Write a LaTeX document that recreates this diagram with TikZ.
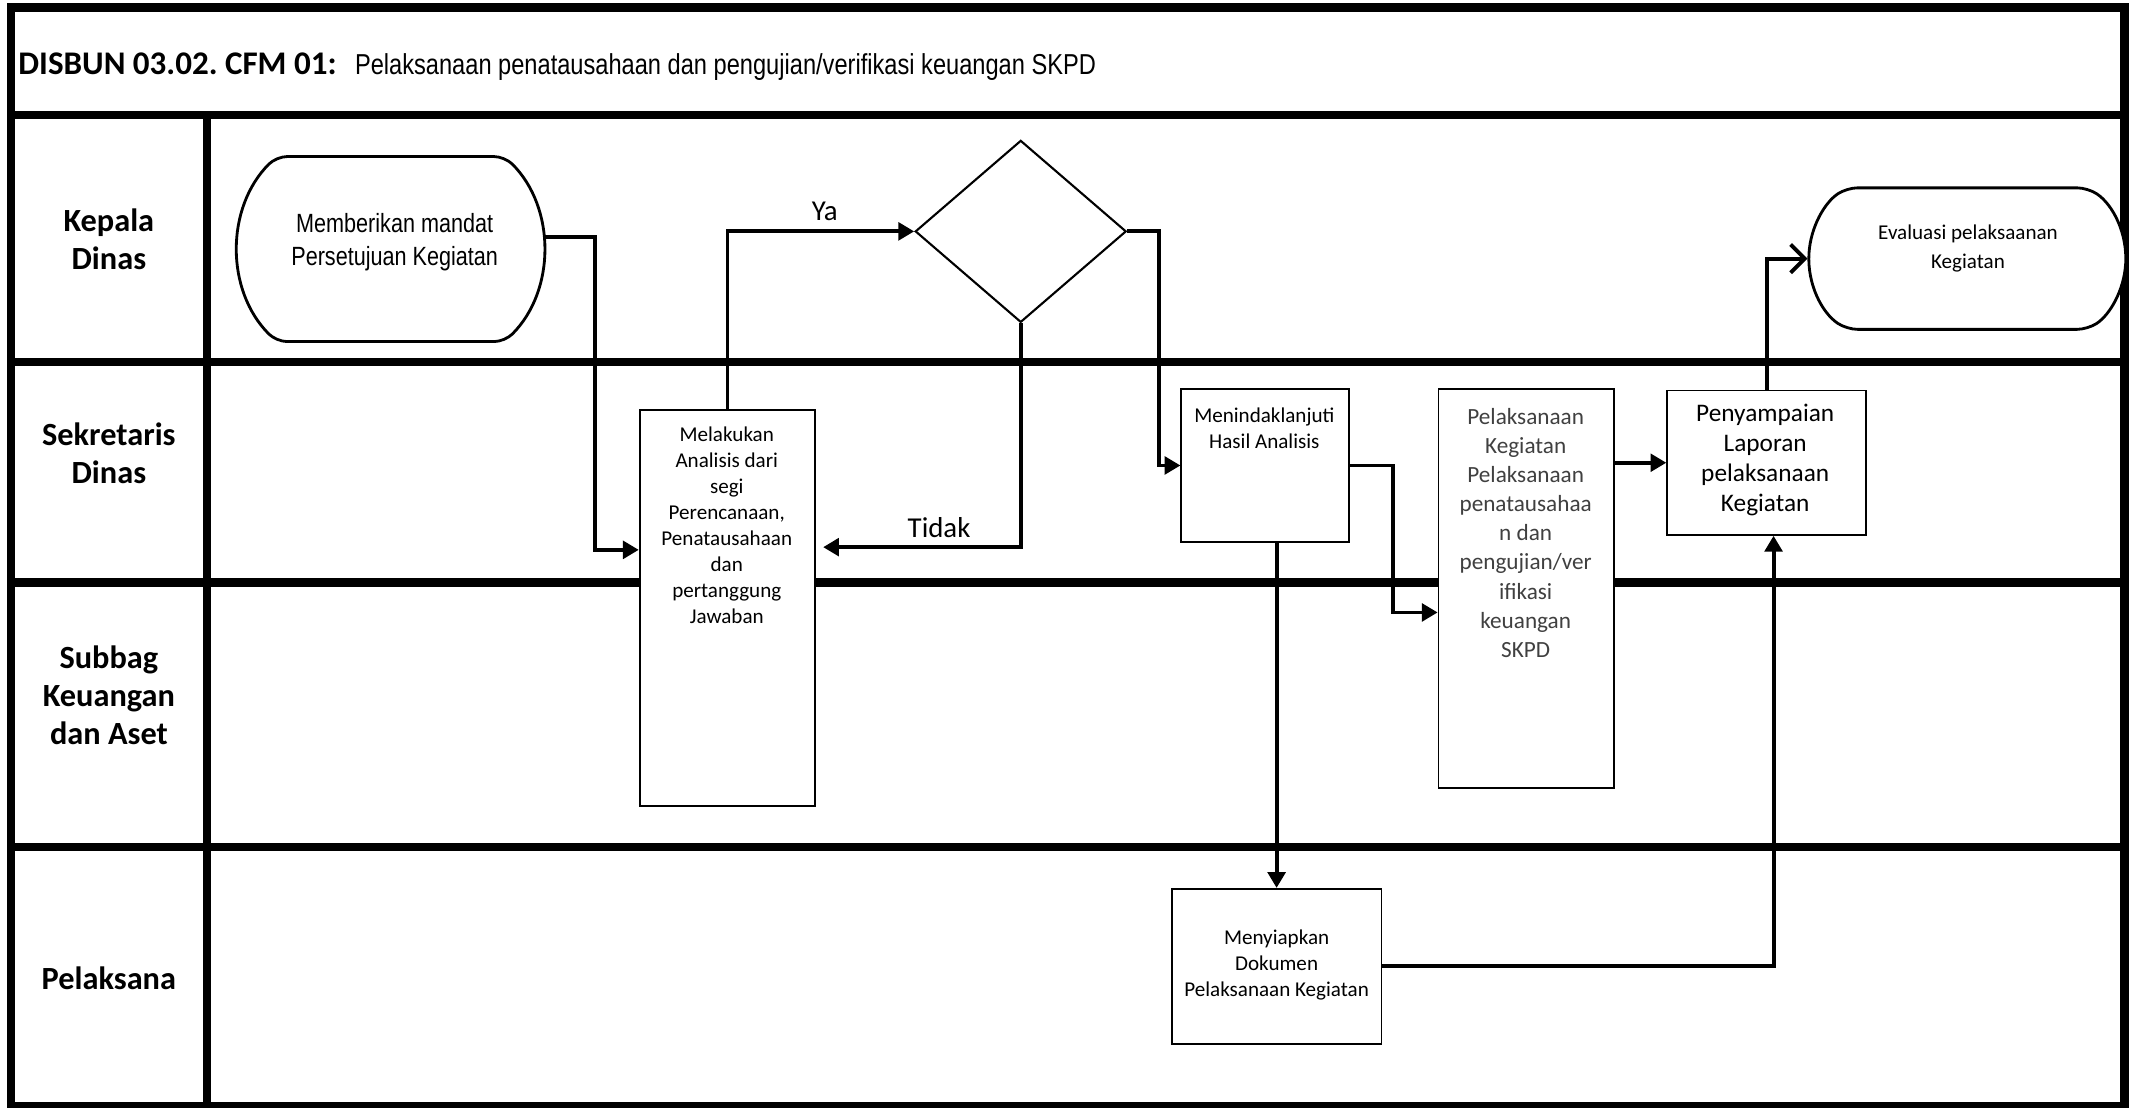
\documentclass[tikz,border=0pt]{standalone}
\usepackage{fontspec}
\setmainfont{Carlito}
\newfontfamily\narrowfont[FakeStretch=0.82]{Liberation Sans}
\usetikzlibrary{positioning}
\usetikzlibrary{shapes.geometric}
\usetikzlibrary{shapes.misc}
\usetikzlibrary{arrows.meta}
\frenchspacing

\tikzset{
  laneline/.style={line width=2.3pt},
  procbox/.style={draw, line width=0.5pt, fill=white, rectangle, inner sep=0pt},
  termbox/.style={draw, line width=0.8pt, fill=white, rounded rectangle, rounded corners=3pt, inner sep=0pt},
  decision/.style={draw, line width=0.6pt, fill=white, diamond, inner sep=0pt},
  flow/.style={line width=1.1pt, -{Triangle[length=4.5pt,width=5pt]}},
  openflow/.style={line width=1.1pt, -{Straight Barb[length=4pt,width=8pt]}},
  boxtext/.style={align=center, inner sep=0pt, font=\fontsize{6}{7.4}\selectfont},
  lanetext/.style={align=center, inner sep=0pt, font=\fontsize{9.2}{10.8}\selectfont\bfseries},
}

\begin{document}
\begin{tikzpicture}[x=0.01361cm, y=-0.01361cm]
\useasboundingbox (0,0) rectangle (1568,814);

% lanes
\draw[laneline] (8,5.5) rectangle (1561,812.5);
\draw[laneline] (8,84.5)--(1561,84.5);
\draw[laneline] (8,266)--(1561,266);
\draw[laneline] (8,428)--(1561,428);
\draw[laneline] (8,622)--(1561,622);
\draw[laneline] (152,84.5)--(152,812.5);

\node[anchor=west, inner sep=0pt, font=\fontsize{9.4}{11}\selectfont\bfseries] (judul) at (13,47) {DISBUN 03.02. CFM 01:};
\node[anchor=base west, inner sep=0pt, font=\narrowfont\fontsize{8.2}{10}\selectfont] (judulisi) at ([xshift=0.17cm]judul.base east) {Pelaksanaan penatausahaan dan pengujian/verifikasi keuangan SKPD};

\node[lanetext] (kepala) at (80,176) {Kepala\\Dinas};
\node[lanetext] (sekretaris) at (80,333) {Sekretaris\\Dinas};
\node[lanetext] (subbag) at (80,511) {Subbag\\Keuangan\\dan Aset};
\node[lanetext] (pelaksana) at (80,719) {Pelaksana};

% shapes
\node[termbox, rounded rectangle arc length=90, minimum width=3.05cm, minimum height=1.85cm] (mandat) at (287,183) {};
\node[align=center, inner sep=0pt, font=\narrowfont\fontsize{7.5}{9.3}\selectfont] (mandattext) at (290,178) {Memberikan mandat\\Persetujuan Kegiatan};

\node[decision, minimum width=2.11cm, minimum height=1.82cm] (keputusan) at (750,170) {};

\node[procbox, minimum width=1.756cm, minimum height=3.96cm] (analisis) at (534.5,446.5) {};
\node[boxtext, font=\fontsize{6}{7.4}\selectfont] (analisistext) at (534,386) {Melakukan\\Analisis dari\\segi\\Perencanaan,\\Penatausahaan\\dan\\pertanggung\\Jawaban};

\node[procbox, minimum width=1.674cm, minimum height=1.524cm] (tindak) at (929.5,342) {};
\node[boxtext, font=\fontsize{6}{7.3}\selectfont] (tindaktext) at (929,314.5) {Menindaklanjuti\\Hasil Analisis};

\node[procbox, minimum width=1.756cm, minimum height=3.99cm] (pelaksanaan) at (1121.5,432.5) {};
\node[boxtext, text=black!75, font=\fontsize{6.6}{8.3}\selectfont] (pelaksanaantext) at (1121,391.5) {Pelaksanaan\\Kegiatan\\Pelaksanaan\\penatausahaa\\n dan\\pengujian/ver\\ifikasi\\keuangan\\SKPD};

\node[procbox, minimum width=1.987cm, minimum height=1.443cm] (laporan) at (1298,340) {};
\node[boxtext, font=\fontsize{7.2}{8.6}\selectfont] (laporantext) at (1297,338) {Penyampaian\\Laporan\\pelaksanaan\\Kegiatan};

\node[termbox, rounded rectangle arc length=113, minimum width=3.17cm, minimum height=1.415cm] (evaluasi) at (1445.5,190) {};
\node[boxtext, font=\fontsize{6}{8.1}\selectfont] (evaluasitext) at (1446,182.5) {Evaluasi pelaksaanan\\Kegiatan};

\node[procbox, minimum width=2.096cm, minimum height=1.55cm] (dokumen) at (938,710) {};
\node[boxtext, font=\fontsize{6}{7.3}\selectfont] (dokumentext) at (938,709) {Menyiapkan\\Dokumen\\Pelaksanaan Kegiatan};

% connectors
\draw[flow] (mandat.east |- 0,174) -- ++(37,0) |- (analisis.west |- 0,404);
\draw[flow] (analisis.north) |- (keputusan.west);
\draw[flow, shorten >=2pt] (keputusan.south) |- (analisis.east |- 0,402);
\draw[flow] (keputusan.east) -- ++(23,0) |- (tindak.west);
\draw[flow] (tindak.east) -- ++(32,0) |- (pelaksanaan.west |- 0,450);
\draw[flow] (pelaksanaan.east |- laporan.west) -- (laporan.west);
\draw[openflow] (laporan.north) |- (evaluasi.west);
\draw[flow] (tindak.south -| dokumen.north) -- (dokumen.north);
\draw[flow] (dokumen.east) -| ([xshift=0.07cm]laporan.south);

\node[font=\fontsize{8.2}{10}\selectfont, inner sep=0pt] (ya) at (606,155) {Ya};
\node[font=\fontsize{8.2}{10}\selectfont, inner sep=0pt] (tidak) at (690,388) {Tidak};

\end{tikzpicture}
\end{document}
